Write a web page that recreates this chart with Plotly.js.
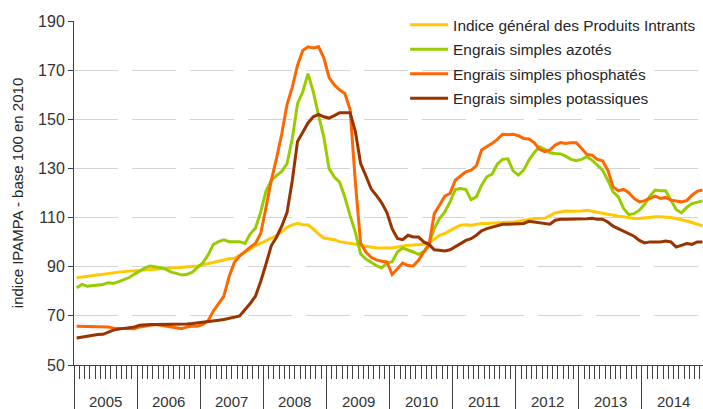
<!DOCTYPE html>
<html>
<head>
<meta charset="utf-8">
<script src="https://cdn.plot.ly/plotly-3.0.1.min.js"></script>
<style>
html,body{margin:0;padding:0;background:#fff;}
#chart{width:703px;height:409px;}
</style>
</head>
<body>
<div id="chart"></div>
<script>
// Year labels (category groups of 12 months, Jan 2005 - Dec 2014)
const years = ['2005','2006','2007','2008','2009','2010','2011','2012','2013','2014'];

const seriesNames = [
  'Indice général des Produits Intrants',
  'Engrais simples azotés',
  'Engrais simples phosphatés',
  'Engrais simples potassiques'
];

// Monthly values, base 100 in 2010
const indiceGeneral = [
  85.5,85.8,86.2,86.3,86.7,86.9,87.1,87.4,87.8,88,88.2,88.4,
  88.5,88.7,88.9,89.1,89.2,89.4,89.5,89.6,89.7,89.8,90,90.3,
  90.8,91.3,92,92.5,93,93.2,93.4,94.8,95.9,97.2,98.6,99.5,
  100.6,101.6,102.7,104.3,106,107,107.7,107.1,107,105.4,103.3,101.7,
  101.3,101,100.2,99.9,99.5,99.3,98.8,98.3,97.9,97.6,97.6,97.6,
  97.6,98,98.4,98.7,98.8,99,99.1,99.7,101.4,102.8,103.5,104.8,
  105.9,106.9,107.1,106.9,107.3,107.6,107.6,107.8,108,108.1,108.1,108.1,
  108.4,108.6,109.2,109.6,109.6,109.7,110.8,111.9,112.3,112.7,112.6,112.6,
  112.7,113,112.6,111.9,111.6,111.4,111,110.5,110.3,109.9,109.6,109.6,
  109.9,110.1,110.3,110.3,110.3,110,109.6,109.2,108.6,108,107.3,106.6
];

const azotes = [
  81.4,82.8,82.1,82.4,82.8,82.8,83.5,83.2,83.9,84.8,85.6,87,
  88.3,89.5,90.3,90,89.6,88.9,87.8,87.3,86.6,86.9,87.8,89.7,
  91.6,94.8,99.1,100.2,100.9,100.2,100.2,100.2,99.5,103.3,105.8,112.2,
  120.7,125.1,127.1,128.8,131.9,142.1,156.4,161.2,168.6,161.2,151.6,142.8,
  129.9,126.5,124.4,118.3,110.8,104,95.2,93.1,91.8,90.4,89.5,91.5,
  92,96,97.6,96.9,96,95,96,99.4,105.5,109.6,112.3,116.4,
  121.4,121.8,121.4,117.3,118.4,123.2,126.6,127.7,131.8,133.7,133.9,129,
  127.3,129.3,133.4,136.4,138.8,137.8,136.4,136.1,135.9,135,133.7,133.1,
  133.7,134.8,133.4,131.4,129.3,125.2,120.5,118.4,113.7,111.2,111.6,113,
  115.4,118.7,121.2,120.9,120.9,117.1,113.3,111.9,114.1,115.7,116.4,116.8
];

const phosphates = [
  65.8,65.8,65.7,65.6,65.5,65.5,65.5,65,65,65,65,64.8,
  65.5,65.9,66.2,66.5,66.2,65.9,65.5,65.1,64.8,65.5,65.9,65.8,
  66.5,68,72,75,78,86,91.8,94.3,96.3,98,99.5,103.5,
  114,125,134,144,156,163,172,178,179.5,179,179.5,175,
  167,164,162,160.5,154,124.4,99.5,96,93.8,92.8,92.2,92,
  86.8,89.1,91.5,90.5,90.3,92.6,96,98.7,111.6,115,118.7,119.8,
  125.2,126.9,128.6,129.3,131,137.5,138.8,140.2,141.8,143.9,143.7,143.9,
  143.3,142.2,142,140.5,137.8,136.8,137.5,139.5,140.5,140.2,140.5,140.5,
  138.2,135.7,135.4,133.7,133.1,129.3,122.5,120.9,121.5,120.1,117.8,116.4,
  116.9,117.8,118.7,117.8,118.2,117.1,116.7,116.4,116.9,119.1,120.7,121.2
];

const potassiques = [
  61,61.4,61.8,62.1,62.4,62.5,63.5,64.2,64.6,64.8,65.1,65.5,
  66.2,66.5,66.5,66.5,66.5,66.5,66.6,66.6,66.6,66.7,66.9,67.1,
  67.6,67.8,68,68.2,68.5,69,69.4,70,72.5,75,78,84,
  91,98.5,102,106.5,112,125,141,145,148.5,151,152,151,
  150.5,151.5,152.7,152.7,152.7,145,132,127,121.7,119,116,112,
  105.4,101.5,101,102.8,102.1,102.1,100.1,99.1,96.9,96.7,96.4,96.9,
  98,99.4,100.7,101.4,102.8,104.6,105.5,106.2,106.7,107.3,107.3,107.3,
  107.6,107.6,108.5,108.2,108.1,107.8,107.3,108.9,109.3,109.3,109.3,109.2,
  109.2,109.5,109.7,109.3,109.3,108.2,106.5,105.5,104.4,103.5,102.4,100.7,
  99.7,100.1,100.1,100.1,100.5,100.1,98,98.7,99.4,99.1,100.1,100.1
];

const colors = ['#FFC800', '#99CC00', '#FF6600', '#993300'];
const allSeries = [indiceGeneral, azotes, phosphates, potassiques];

// month index on the category axis (0 = Jan 2005)
const months = indiceGeneral.map((_, i) => i);

const traces = allSeries.map((vals, k) => ({
  type: 'scatter',
  mode: 'lines',
  name: seriesNames[k],
  legendgroup: 'g' + k,
  x: months,
  y: vals,
  line: {color: colors[k], width: 3, shape: 'linear'},
  hoverinfo: 'skip'
}));

// empty trace that only anchors the year-separator axis
traces.push({type: 'scatter', mode: 'lines', x: [], y: [], xaxis: 'x2', yaxis: 'y', showlegend: false, hoverinfo: 'skip'});

// year boundaries and year label positions derived from the category index
const yearBounds = years.map((_, k) => 12 * k - 0.5);
const yearCenters = years.map((_, k) => 12 * k + 5.5);

const axisColor = '#404040';
const font = 'Liberation Sans, Arial, sans-serif';
const xRange = [-0.5, 119.1];

const annotations = years.map((yr, k) => ({
  text: yr,
  x: yearCenters[k],
  xref: 'x',
  y: -0.106,
  yref: 'paper',
  xanchor: 'center',
  yanchor: 'middle',
  showarrow: false,
  font: {family: font, size: 15, color: '#333333'}
}));

const layout = {
  width: 703,
  height: 409,
  margin: {l: 74, r: 0, t: 21, b: 44, pad: 0},
  paper_bgcolor: '#ffffff',
  plot_bgcolor: '#ffffff',
  font: {family: font, color: '#333333'},
  showlegend: true,
  legend: {
    x: 0.5264, xanchor: 'left',
    y: 1.037, yanchor: 'top',
    bgcolor: 'rgba(0,0,0,0)',
    borderwidth: 0,
    font: {family: font, size: 15.4, color: '#262626'},
    itemwidth: 38,
    traceorder: 'grouped',
    tracegroupgap: 1.5
  },
  xaxis: {
    range: xRange,
    showgrid: false,
    zeroline: false,
    showline: true,
    linecolor: axisColor,
    linewidth: 1,
    tickmode: 'linear',
    tick0: -0.5,
    dtick: 1,
    ticks: 'outside',
    ticklen: 13,
    tickwidth: 1,
    tickcolor: axisColor,
    showticklabels: false
  },
  xaxis2: {
    range: xRange,
    overlaying: 'x',
    anchor: 'y',
    side: 'bottom',
    showgrid: false,
    zeroline: false,
    showline: false,
    tickmode: 'array',
    tickvals: yearBounds,
    ticks: 'outside',
    ticklen: 44,
    tickwidth: 1,
    tickcolor: axisColor,
    showticklabels: false
  },
  yaxis: {
    range: [50, 190],
    tickmode: 'linear',
    tick0: 50,
    dtick: 20,
    showgrid: true,
    gridcolor: '#d4d4d4',
    gridwidth: 1,
    griddash: '44px,14px',
    zeroline: false,
    showline: true,
    linecolor: axisColor,
    linewidth: 1,
    ticks: 'outside',
    ticklen: 5,
    tickwidth: 1,
    tickcolor: axisColor,
    tickfont: {family: font, size: 16, color: '#333333'},
    automargin: true,
    title: {
      text: 'indice IPAMPA - base 100 en 2010',
      standoff: 10,
      font: {family: font, size: 15, color: '#262626'}
    }
  },
  annotations: annotations
};

Plotly.newPlot('chart', traces, layout, {displayModeBar: false, staticPlot: true});
</script>
</body>
</html>
